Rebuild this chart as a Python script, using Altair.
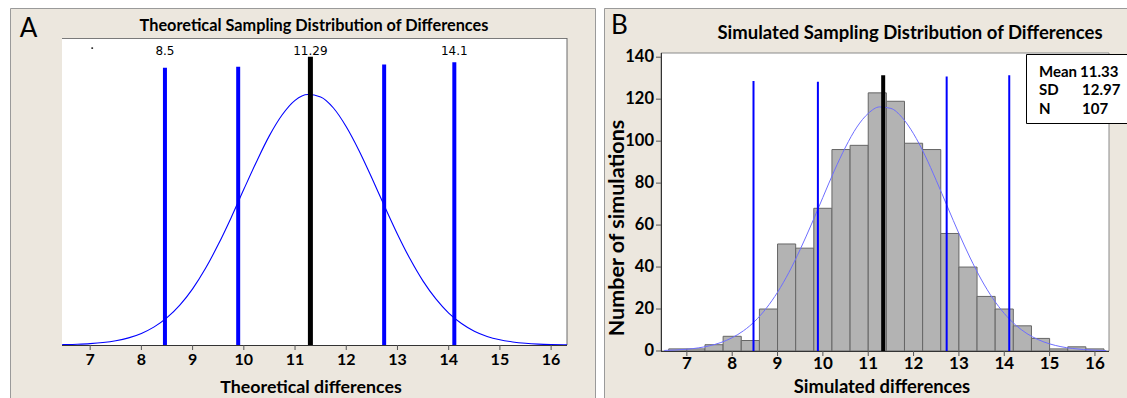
import altair as alt
import pandas as pd

# ---------------- data ----------------
x_ticks = [7, 8, 9, 10, 11, 12, 13, 14, 15, 16]
y_ticks_b = [0, 20, 40, 60, 80, 100, 120, 140]

# Panel A : theoretical curve (height as share of the plot area)
a_curve_x = [6.45, 6.5, 6.75, 7.0, 7.25, 7.5, 7.75, 8.0, 8.25, 8.5, 8.75, 9.0, 9.25, 9.5,
             9.75, 10.0, 10.25, 10.5, 10.75, 11.0, 11.25, 11.5, 11.75, 12.0, 12.25, 12.5,
             12.75, 13.0, 13.25, 13.5, 13.75, 14.0, 14.25, 14.5, 14.75, 15.0, 15.25, 15.5,
             15.75, 16.0, 16.25, 16.31]
a_curve_y = [0.001, 0.0012, 0.0024, 0.0044, 0.0079, 0.0138, 0.0232, 0.0377, 0.059, 0.089,
             0.130, 0.183, 0.249, 0.327, 0.414, 0.507, 0.598, 0.682, 0.750, 0.797, 0.816,
             0.808, 0.772, 0.711, 0.633, 0.544, 0.451, 0.361, 0.279, 0.208, 0.150, 0.104,
             0.070, 0.045, 0.028, 0.017, 0.010, 0.0056, 0.003, 0.0016, 0.0008, 0.0007]
a_blue_x = [8.46, 9.89, 12.74, 14.11]
a_blue_top = [0.903, 0.906, 0.914, 0.921]
a_mean_x = [11.3]
a_mean_top = [0.939]
a_label_x = [8.46, 11.3, 14.11]
a_label_y = [0.958, 0.958, 0.958]
a_label_text = ["8.5", "11.29", "14.1"]
a_dot_x = [7.04]
a_dot_y = [0.967]

# Panel B : simulated histogram
b_bin_start = [6.6, 7.0, 7.4, 7.8, 8.2, 8.6, 9.0, 9.4, 9.8, 10.2, 10.6, 11.0, 11.4, 11.8,
               12.2, 12.6, 13.0, 13.4, 13.8, 14.2, 14.6, 15.0, 15.4, 15.8]
b_bin_end = [7.0, 7.4, 7.8, 8.2, 8.6, 9.0, 9.4, 9.8, 10.2, 10.6, 11.0, 11.4, 11.8, 12.2,
             12.6, 13.0, 13.4, 13.8, 14.2, 14.6, 15.0, 15.4, 15.8, 16.2]
b_counts = [1, 1, 3, 7, 5, 20, 51, 49, 68, 96, 98, 123, 119, 99, 96, 56, 40, 26, 20, 12,
            6, 1, 2, 1]
b_curve_x = [6.5, 6.75, 7.0, 7.25, 7.5, 7.75, 8.0, 8.25, 8.5, 8.75, 9.0, 9.25, 9.5, 9.75,
             10.0, 10.25, 10.5, 10.75, 11.0, 11.25, 11.5, 11.75, 12.0, 12.25, 12.5, 12.75,
             13.0, 13.25, 13.5, 13.75, 14.0, 14.25, 14.5, 14.75, 15.0, 15.25, 15.5, 15.75,
             16.0, 16.25]
b_curve_y = [0.26, 0.47, 0.85, 1.47, 2.48, 4.03, 6.34, 9.66, 14.2, 20.3, 28.0, 37.4, 48.4,
             60.5, 73.2, 85.8, 97.2, 106.7, 113.2, 116.3, 115.6, 111.2, 103.5, 93.3, 81.3,
             68.6, 56.0, 44.3, 33.8, 25.0, 17.9, 12.4, 8.3, 5.4, 3.4, 2.06, 1.21, 0.69,
             0.38, 0.20]
b_blue_x = [8.47, 9.89, 12.73, 14.11]
b_blue_top = [128.7, 128.3, 130.8, 131.4]
b_mean_x = [11.33]
b_mean_top = [131.4]
stats_names = ["Mean", "SD", "N"]
stats_values = ["11.33", "12.97", "107"]

# ---------------- styling ----------------
W, H = 1127, 398
BEIGE = "#ECE7DE"
FONT = "Lato"
AXC = "#333333"
TICKC = "#555555"

xA = alt.Scale(domain=[6.45, 16.31], range=[62, 567], nice=False, zero=False)
yA = alt.Scale(domain=[0, 1], range=[345, 38], nice=False, zero=False)
xB = alt.Scale(domain=[6.43, 16.31], range=[661, 1109], nice=False, zero=False)
yB = alt.Scale(domain=[0, 142], range=[351, 53], nice=False, zero=False)

one = pd.DataFrame({"k": [0]})


def rect(x, x2, y, y2, fill, stroke=None, sw=1):
    kw = dict(fill=fill, strokeWidth=sw)
    if stroke:
        kw["stroke"] = stroke
    else:
        kw["strokeWidth"] = 0
    return alt.Chart(one).mark_rect(**kw).encode(
        x=alt.value(x), x2=alt.value(x2), y=alt.value(y), y2=alt.value(y2))


def hline(x, x2, y, color, sw=1):
    return alt.Chart(one).mark_rule(color=color, strokeWidth=sw).encode(
        x=alt.value(x), x2=alt.value(x2), y=alt.value(y))


def vline(x, y, y2, color, sw=1):
    return alt.Chart(one).mark_rule(color=color, strokeWidth=sw).encode(
        x=alt.value(x), y=alt.value(y), y2=alt.value(y2))


def txt(s, x, y, size, weight="bold", align="center", font=FONT, color="black", angle=0):
    kw = dict(text=s, fontSize=size, fontWeight=weight, font=font, align=align,
              baseline="middle", color=color)
    if angle:
        kw["angle"] = angle
    return alt.Chart(one).mark_text(**kw).encode(x=alt.value(x), y=alt.value(y))


decor = [
    rect(10.5, 595.5, 8.5, H + 20, BEIGE, "#9A9A9A"),
    rect(604.5, W + 20, 8.5, H + 20, BEIGE, "#9A9A9A"),
    rect(62, 567, 38, 345, "white"),
    hline(62, 567, 38.5, "#7A7A7A"),
    vline(567, 38, 345, "#6A6A6A"),
    rect(661, 1109, 53, 351, "white", "#8A8A8A"),
    txt("A", 28.5, 29, 26, weight="normal"),
    txt("B", 619.5, 25.5, 26, weight="normal"),
    txt("Theoretical Sampling Distribution of Differences", 314, 25.5, 16.3),
    txt("Simulated Sampling Distribution of Differences", 910, 32.5, 18.5),
]

ticks_df = pd.DataFrame({"v": x_ticks})
yticks_df = pd.DataFrame({"v": y_ticks_b})

# ---------------- panel A ----------------
dfa_curve = pd.DataFrame({"x": a_curve_x, "y": a_curve_y})
dfa_blue = pd.DataFrame({"x": a_blue_x, "top": a_blue_top})
dfa_mean = pd.DataFrame({"x": a_mean_x, "top": a_mean_top})
dfa_lab = pd.DataFrame({"x": a_label_x, "y": a_label_y, "t": a_label_text})
dfa_dot = pd.DataFrame({"x": a_dot_x, "y": a_dot_y})

XA = lambda f: alt.X(f, scale=xA, axis=None)
YA = lambda f: alt.Y(f, scale=yA, axis=None)

a_curve = alt.Chart(dfa_curve).mark_line(color="#0000FF", strokeWidth=1.1,
                                          interpolate="monotone").encode(
    x=XA("x:Q"), y=YA("y:Q"))
a_blue = alt.Chart(dfa_blue).mark_rule(color="#0000FF", strokeWidth=4).encode(
    x=XA("x:Q"), y=YA("top:Q"), y2=alt.datum(0))
a_mean = alt.Chart(dfa_mean).mark_rule(color="black", strokeWidth=5).encode(
    x=XA("x:Q"), y=YA("top:Q"), y2=alt.datum(0))
a_lab = alt.Chart(dfa_lab).mark_text(font="DejaVu Sans", fontSize=12, color="black",
                                     baseline="middle").encode(
    x=XA("x:Q"), y=YA("y:Q"), text="t:N")
a_dot = alt.Chart(dfa_dot).mark_square(size=3, color="#333333", opacity=1).encode(
    x=XA("x:Q"), y=YA("y:Q"))

# x axis of panel A, drawn through the A scale
a_domain = alt.Chart(one).mark_rule(color=AXC, strokeWidth=1).encode(
    x=alt.X(datum=6.45, scale=xA, axis=None), x2=alt.datum(16.31), y=alt.value(345.5))
a_ticks = alt.Chart(ticks_df).mark_rule(color=TICKC, strokeWidth=1).encode(
    x=XA("v:Q"), y=alt.value(345), y2=alt.value(350))
a_tlabels = alt.Chart(ticks_df).mark_text(font=FONT, fontSize=16, fontWeight="bold",
                                          color="black", baseline="middle").encode(
    x=XA("v:Q"), y=alt.value(360), text=alt.Text("v:Q", format="d"))

panelA = alt.layer(a_blue, a_curve, a_mean, a_lab, a_dot, a_domain, a_ticks, a_tlabels)

# ---------------- panel B ----------------
dfb_hist = pd.DataFrame({"s": b_bin_start, "e": b_bin_end, "n": b_counts})
dfb_curve = pd.DataFrame({"x": b_curve_x, "y": b_curve_y})
dfb_blue = pd.DataFrame({"x": b_blue_x, "top": b_blue_top})
dfb_mean = pd.DataFrame({"x": b_mean_x, "top": b_mean_top})

XB = lambda f: alt.X(f, scale=xB, axis=None)
YB = lambda f: alt.Y(f, scale=yB, axis=None)

b_bars = alt.Chart(dfb_hist).mark_rect(fill="#B3B3B3", stroke="#666666",
                                       strokeWidth=1).encode(
    x=XB("s:Q"), x2="e:Q", y=YB("n:Q"), y2=alt.datum(0))
b_curve = alt.Chart(dfb_curve).mark_line(color="#6E6EFF", strokeWidth=1,
                                         interpolate="monotone").encode(
    x=XB("x:Q"), y=YB("y:Q"))
b_blue = alt.Chart(dfb_blue).mark_rule(color="#0000FF", strokeWidth=2).encode(
    x=XB("x:Q"), y=YB("top:Q"), y2=alt.datum(0))
b_mean = alt.Chart(dfb_mean).mark_rule(color="black", strokeWidth=4).encode(
    x=XB("x:Q"), y=YB("top:Q"), y2=alt.datum(0))

# axes of panel B, drawn through the B scales
b_xdomain = alt.Chart(one).mark_rule(color=AXC, strokeWidth=1).encode(
    x=alt.X(datum=6.43, scale=xB, axis=None), x2=alt.datum(16.31), y=alt.value(351.5))
b_ydomain = alt.Chart(one).mark_rule(color=AXC, strokeWidth=1).encode(
    y=alt.Y(datum=0, scale=yB, axis=None), y2=alt.datum(142), x=alt.value(661.5))
b_xticks = alt.Chart(ticks_df).mark_rule(color=TICKC, strokeWidth=1).encode(
    x=XB("v:Q"), y=alt.value(351), y2=alt.value(356))
b_xlabels = alt.Chart(ticks_df).mark_text(font=FONT, fontSize=17, fontWeight="bold",
                                          color="black", baseline="middle").encode(
    x=XB("v:Q"), y=alt.value(364), text=alt.Text("v:Q", format="d"))
b_yticks = alt.Chart(yticks_df).mark_rule(color=TICKC, strokeWidth=1).encode(
    y=YB("v:Q"), x=alt.value(656), x2=alt.value(661))
b_ylabels = alt.Chart(yticks_df).mark_text(font=FONT, fontSize=16.5, fontWeight="bold",
                                           color="black", baseline="middle",
                                           align="right").encode(
    y=YB("v:Q"), x=alt.value(654), text=alt.Text("v:Q", format="d"))

panelB = alt.layer(b_bars, b_curve, b_blue, b_mean, b_xdomain, b_ydomain, b_xticks,
                   b_xlabels, b_yticks, b_ylabels)

titles = [
    txt("Theoretical differences", 311, 387.5, 17.8),
    txt("Simulated differences", 882, 386.5, 18.4),
    txt("Number of simulations", 617.5, 228, 21.5, angle=270),
]

# stats box
box = [rect(1026.5, W + 20, 54.5, 123.5, "white", "black")]
rows_y = [71.5, 90, 108.5]
for name, val, yy, vx in zip(stats_names, stats_values, rows_y, [1080, 1082, 1082]):
    box.append(txt(name, 1039, yy, 15, align="left"))
    box.append(txt(val, vx, yy, 15, align="left"))

chart = alt.layer(*decor, panelA, panelB, *titles, *box).resolve_scale(
    x="independent", y="independent"
).properties(
    width=W, height=H, padding=0, autosize="none"
).configure(background="white").configure_view(stroke="transparent")

chart.save("out.html", embed_options={"renderer": "svg", "actions": False})
